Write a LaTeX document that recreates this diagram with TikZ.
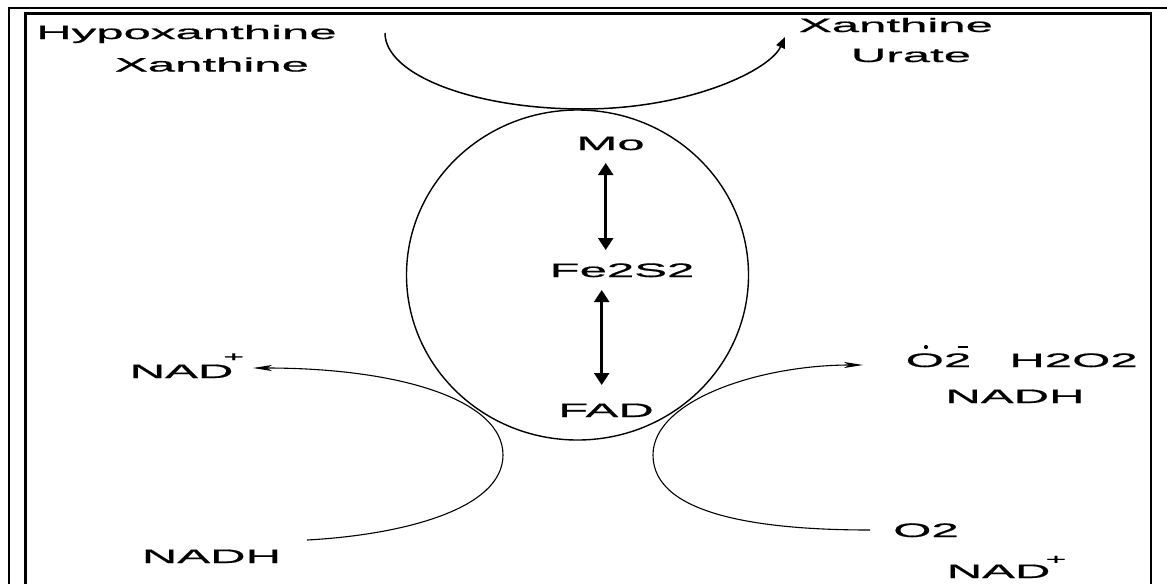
\documentclass[tikz,border=0pt]{standalone}
\usepackage{fontspec}
\setmainfont{Liberation Sans}[FakeStretch=2.52,FakeBold=0.8]
\usetikzlibrary{arrows.meta,shapes.geometric}
\newcommand{\supplus}[2]{\hspace*{#1}\raisebox{#2}{\fontsize{14}{14}\selectfont +}}
\begin{document}
\begin{tikzpicture}[x=1pt,y=-1pt,
  lbl/.style={font=\fontsize{19.5}{22}\selectfont, inner sep=0pt, anchor=base},
  lblw/.style={font=\fontsize{19.5}{22}\selectfont, inner sep=0pt, anchor=base west},
  framea/.style={line width=2.2pt, line join=miter},
  frameb/.style={line width=2.6pt, line join=miter},
  dbl/.style={line width=2.5pt, {Triangle[length=12pt,width=15pt]}-{Triangle[length=12pt,width=15pt]}},
  toparc/.style={line width=1.5pt, -{Triangle[length=11pt,width=9pt]}},
  lowarc/.style={line width=1.1pt, -{Stealth[length=19pt,width=6pt,inset=5pt]}},
  enzyme/.style={ellipse, draw, line width=1.4pt, inner sep=0pt, minimum width=342pt, minimum height=330pt}]
\useasboundingbox (0,0) rectangle (1167,584);
% frame
\draw[framea] (9,584) -- (9,8.3) -- (1167,8.3);
\draw[frameb] (25.3,584) -- (25.3,13.7) -- (1151,13.7) -- (1151,584);
% enzyme
\node[enzyme] (enz) at (577.5,275) {};
% labels
\node[lbl] (hyp) at (186.5,39) {Hypoxanthine};
\node[lbl] (xanl) at (212,71.5) {Xanthine};
\node[lbl] (xanr) at (896,32) {Xanthine};
\node[lbl] (urate) at (911,62) {Urate};
\node[lbl] (mo) at (610.5,150) {Mo};
\node[lbl] (fe) at (622,277) {Fe2S2};
\node[lbl] (fad) at (606,417) {FAD};
\node[lblw] (nadpl) at (129.5,378) {NAD\supplus{-10pt}{16.6pt}};
\node[lbl] (nadhl) at (211.5,563) {NADH};
\node[lblw] (sup) at (905.5,367) {O2};
\node[lbl] (h2o2) at (1073.5,367) {H2O2};
\node[lbl] (nadhr) at (1015,403) {NADH};
\node[lbl] (o2) at (926,537) {O2};
\node[lblw] (nadpr) at (946.5,578) {NAD\supplus{-4.7pt}{14pt}};
% superoxide radical marks
\fill (926,347) circle (2.1);
\draw[line width=1.6pt] (957.5,347) -- (968,347);
% double arrows between cofactors
\coordinate (a1t) at (605.7,163);
\coordinate (a1b) at (605.7,250);
\coordinate (a2t) at (601.7,290);
\coordinate (a2b) at (601.7,385);
\draw[dbl] (a1t) -- (a1b);
\draw[dbl] (a2t) -- (a2b);
% top arc: Hypoxanthine/Xanthine -> Xanthine/Urate
\coordinate (ts) at (385,33);
\coordinate (tm) at (583,109);
\coordinate (te) at (785,37);
\draw[toparc] (ts) .. controls (385,75) and (474,109) .. (tm)
  .. controls (690,109) and (770,70) .. (te);
% left lower arc: NADH -> NAD+
\coordinate (ls) at (307,540);
\coordinate (lm) at (503,455);
\coordinate (le) at (253,368);
\draw[lowarc] (ls) .. controls (400,535) and (503,510) .. (lm)
  .. controls (503,400) and (400,368) .. (le);
% right lower arc: O2/NAD+ -> superoxide/H2O2/NADH
\coordinate (rs) at (870,530);
\coordinate (rm) at (653,455);
\coordinate (re) at (863,365);
\draw[lowarc] (rs) .. controls (760,530) and (653,515) .. (rm)
  .. controls (653,400) and (760,365) .. (re);
\end{tikzpicture}
\end{document}
